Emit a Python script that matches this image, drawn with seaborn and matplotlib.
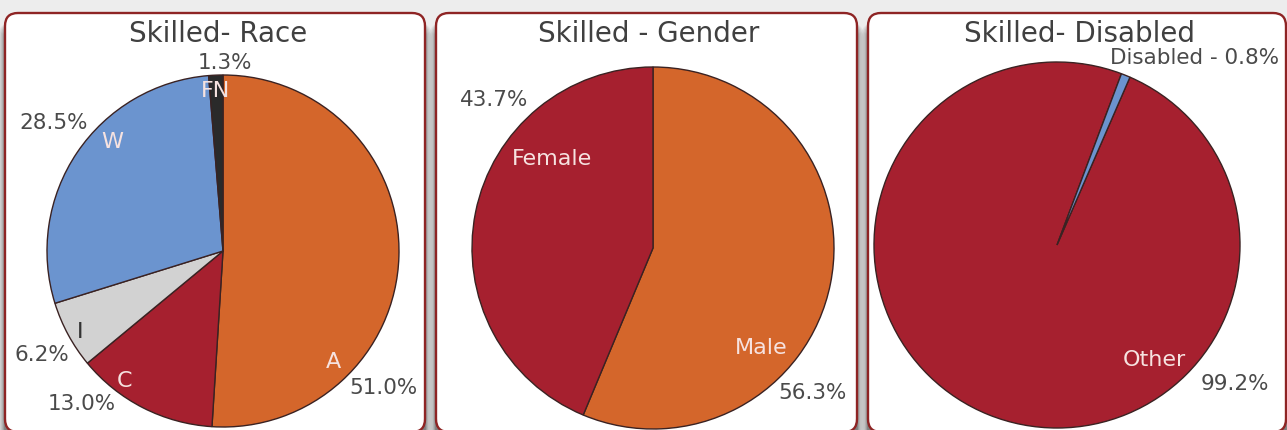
import matplotlib
matplotlib.use("Agg")
import matplotlib.pyplot as plt
from matplotlib.patches import FancyBboxPatch
import numpy as np
import seaborn as sns

# ---------------- data ----------------
race_labels = ["A", "C", "I", "W", "FN"]
race_values = [51.0, 13.0, 6.2, 28.5, 1.3]

gender_labels = ["Male", "Female"]
gender_values = [56.3, 43.7]

disabled_labels = ["Other", "Disabled"]
disabled_values = [99.2, 0.8]

titles = ["Skilled- Race", "Skilled - Gender", "Skilled- Disabled"]

# ---------------- style ----------------
sns.set_theme(style="white")
plt.rcParams["font.family"] = ["DejaVu Sans"]

ORANGE = "#D4662B"
RED = "#A6202F"
BLUE = "#6B94CF"
LGRAY = "#D2D2D2"
DARK = "#2A2A2A"
race_colors = sns.color_palette([ORANGE, RED, LGRAY, BLUE, DARK])
gender_colors = sns.color_palette([ORANGE, RED])
disabled_colors = sns.color_palette([RED, BLUE])

W, H = 1287, 430
fig = plt.figure(figsize=(W / 100, H / 100), dpi=100)
fig.patch.set_facecolor("#EDEDED")

# background axes in pixel coordinates for panels
bg = fig.add_axes([0, 0, 1, 1])
bg.set_xlim(0, W)
bg.set_ylim(H, 0)
bg.axis("off")

panels = [(5, 13, 425, 432), (436, 13, 857, 432), (868, 13, 1286, 432)]
for (x0, y0, x1, y1) in panels:
    # soft shadow
    for k, a in zip([10, 8, 6, 4, 2.5, 1.2], [0.06, 0.08, 0.10, 0.13, 0.17, 0.22]):
        sh = FancyBboxPatch((x0 - k * 0.7, y0 + 10), (x1 - x0) + k * 1.4, (y1 - y0),
                            boxstyle="round,pad=0,rounding_size=14",
                            facecolor="#2e2e2e", edgecolor="none", alpha=a, zorder=1)
        bg.add_patch(sh)
    p = FancyBboxPatch((x0, y0), x1 - x0, y1 - y0,
                       boxstyle="round,pad=0,rounding_size=13",
                       facecolor="white", edgecolor="#8E2424", linewidth=1.7, zorder=2)
    bg.add_patch(p)

PCT_COLOR = "#4A4A4A"
IN_COLOR = "#F6E2E0"
TITLE_COLOR = "#404040"


def pie_axes(cx, cy, R):
    ax = fig.add_axes([(cx - R) / W, 1 - (cy + R) / H, 2 * R / W, 2 * R / H])
    ax.set_facecolor("none")
    return ax


def draw_pie(ax, values, colors, start):
    ax.pie(values, colors=colors, startangle=start, counterclock=False,
           radius=1.0, wedgeprops=dict(edgecolor="#3A2222", linewidth=1.0))
    ax.set_xlim(-1, 1)
    ax.set_ylim(-1, 1)
    ax.set_aspect("auto")
    ax.axis("off")


# label layout (in pie-radius units): inner-name position, outer-percent position
race_name_pos = [(0.63, -0.63), (-0.56, -0.74), (-0.81, -0.46), (-0.63, 0.62), (-0.04, 0.91)]
race_pct_pos = [(0.91, -0.78), (-0.80, -0.87), (-1.03, -0.59), (-0.96, 0.73), (0.01, 1.07)]
race_name_colors = [IN_COLOR, IN_COLOR, "#333333", IN_COLOR, IN_COLOR]
gender_name_pos = [(0.60, -0.55), (-0.56, 0.49)]
gender_pct_pos = [(0.88, -0.80), (-0.88, 0.82)]

FS_PCT = 15.5
FS_IN = 16
FS_TITLE = 20

# ---- Race ----
ax1 = pie_axes(223, 251, 176)
draw_pie(ax1, race_values, race_colors, 90)
for lab, val, npos, ppos, nc in zip(race_labels, race_values, race_name_pos, race_pct_pos,
                                    race_name_colors):
    ax1.text(*npos, lab, color=nc, fontsize=FS_IN, ha="center", va="center")
    ax1.text(*ppos, f"{val:.1f}%", color=PCT_COLOR, fontsize=FS_PCT, ha="center", va="center")
fig.text(218 / W, 1 - 34 / H, titles[0], color=TITLE_COLOR, fontsize=FS_TITLE,
         ha="center", va="center")

# ---- Gender ----
ax2 = pie_axes(653, 248, 181)
draw_pie(ax2, gender_values, gender_colors, 90)
for lab, val, npos, ppos in zip(gender_labels, gender_values, gender_name_pos, gender_pct_pos):
    ax2.text(*npos, lab, color=IN_COLOR, fontsize=FS_IN, ha="center", va="center")
    ax2.text(*ppos, f"{val:.1f}%", color=PCT_COLOR, fontsize=FS_PCT, ha="center", va="center")
fig.text(649 / W, 1 - 34 / H, titles[1], color=TITLE_COLOR, fontsize=FS_TITLE,
         ha="center", va="center")

# ---- Disabled ----
ax3 = pie_axes(1057, 245, 183)
draw_pie(ax3, disabled_values, disabled_colors, 66.5)
ax3.text(0.53, -0.63, disabled_labels[0], color=IN_COLOR, fontsize=FS_IN, ha="center", va="center")
ax3.text(0.97, -0.76, f"{disabled_values[0]:.1f}%", color=PCT_COLOR, fontsize=FS_PCT,
         ha="center", va="center")
ax3.text(0.75, 1.02, f"{disabled_labels[1]} - {disabled_values[1]:.1f}%", color=PCT_COLOR,
         fontsize=FS_PCT, ha="center", va="center")
fig.text(1079 / W, 1 - 34 / H, titles[2], color=TITLE_COLOR, fontsize=FS_TITLE,
         ha="center", va="center")

fig.savefig("out.png", dpi=100, facecolor=fig.get_facecolor())
